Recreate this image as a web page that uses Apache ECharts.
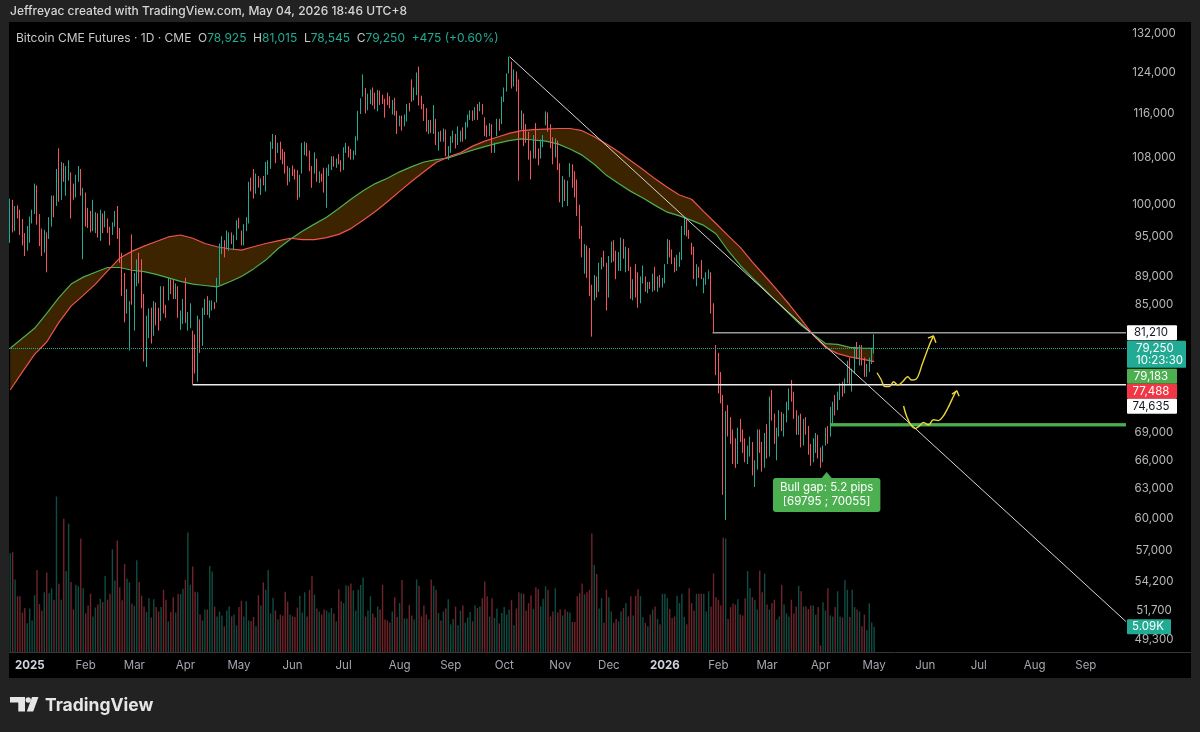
<!DOCTYPE html>
<html>
<head>
<meta charset="utf-8">
<script src="https://cdn.jsdelivr.net/npm/echarts@6/dist/echarts.min.js"></script>
<style>
html,body{margin:0;padding:0;background:#222222;overflow:hidden;}
#pane{position:absolute;left:9px;top:22px;width:1182px;height:656px;background:#000000;}
#chart{position:absolute;left:0;top:0;width:1200px;height:732px;}
</style>
</head>
<body>
<div id="pane"></div>
<div id="chart"></div>
<script>
// ---------------- DATA ----------------
// Daily candles, CME Bitcoin futures, first bar = 2024-12-20 (weekday bars). [open, high, low, close]
const ohlc = [
[98000,101000,94000,100400],[100400,100800,95600,96200],[96200,99800,95800,99300],[99300,99900,97800,98600],[98600,99200,95200,96000],
[96000,97700,93600,94800],[94800,95500,92000,93000],[93000,96600,92800,94200],[94300,98100,94000,97600],[97600,99200,97000,98900],
[99000,103500,98500,102800],[102800,103200,96800,97300],[97300,98500,93500,95400],[95400,96200,92000,93000],[93000,96000,92500,95200],
[95200,95600,89600,95000],[95000,98000,94600,97000],[97000,101500,96500,100800],[100800,101500,98000,100000],[100000,106000,99800,105300],
[105300,109600,100500,102500],[102500,107200,100800,106600],[106600,107000,103800,104400],[104400,106500,101500,104800],[104800,107500,104000,105500],
[105000,105400,97800,102500],[102500,103500,100800,101800],[101800,105000,101200,104400],[104400,106500,103800,105200],[105200,106000,101500,102400],
[100500,102800,91500,101000],[101000,102000,96500,98000],[98000,99500,96300,97000],[97000,99000,95600,96500],[96500,100800,95800,96800],
[96800,98800,95500,98000],[98000,98600,94800,95800],[95800,99200,94300,98400],[98400,98600,95500,96600],[96600,99000,96400,97800],
[97500,97800,95500,96000],[96000,96500,93600,95600],[95600,97200,95200,96800],[96800,99000,96500,98600],[98600,99800,94600,96000],
[95800,96300,91000,91600],[91600,92500,86200,88800],[88800,89500,82600,84600],[84600,87200,83800,85200],[80500,85500,78900,84900],
[94000,95300,85000,86800],[86800,89500,81500,88200],[88200,91500,87600,90800],[90800,92500,88000,89800],[89800,91500,84500,87000],
[86000,86500,77500,79000],[79000,83500,76800,82600],[82600,84500,80500,83800],[83800,84600,79800,81300],[81300,85500,80800,84600],
[84400,85300,82200,84300],[84300,84600,81500,83000],[83000,87600,82800,87000],[87000,87600,83800,84500],[84500,85000,83200,84200],
[86000,88800,85600,88200],[88200,88600,86500,87800],[87800,88500,85800,86800],[86800,88000,85800,87300],[87300,87600,83200,84000],
[83000,84200,81600,83200],[83200,85800,82400,85300],[85300,88800,82500,83000],[83000,84000,81500,83200],[83200,85200,81800,84000],
[80500,81500,74635,78600],[78600,81000,76000,76600],[76600,83500,75000,82600],[82600,83000,78600,79800],[79800,84600,79500,83800],
[84500,85800,83600,84800],[84800,86200,83600,84000],[84000,85600,83200,84900],[84900,85600,84200,85000],[85000,85400,84400,84800],
[85500,88800,85300,88200],[88200,93900,87800,93600],[93600,95000,92300,93800],[93800,94400,91800,93500],[93500,95900,93000,95000],
[94500,95600,92800,95200],[95200,95600,93800,94400],[94400,95200,92900,94600],[94600,97500,94400,97000],[97000,97900,96200,96800],
[95800,95900,93600,94800],[94800,96900,93600,96600],[96600,98000,95800,97200],[97200,103800,97000,103200],[103200,104500,102200,103000],
[104500,106000,101000,102500],[102500,105200,101800,104400],[104400,104800,102800,103600],[103600,104400,101600,103800],[103800,104800,103200,103600],
[104600,107200,102200,105800],[105800,107500,105000,106900],[106900,110800,106000,110000],[110000,112200,109500,111800],[111800,112000,107000,107800],
[109200,110600,108800,109800],[109800,110800,107600,109300],[109300,109500,106800,108000],[108000,109000,105200,105800],[105800,106500,103200,104200],
[104500,106200,103800,105900],[105900,106600,104800,105600],[105600,106000,104200,104800],[104800,105800,100800,101600],[101600,105000,101200,104600],
[105500,110600,105200,110300],[110300,110800,108400,110400],[110400,110600,108200,108800],[108800,109200,105600,106000],[106000,106500,102800,105800],
[105800,108900,105200,107300],[107300,107800,103800,104600],[104600,105600,103600,105000],[105000,105200,103800,104700],[104700,106200,102000,103400],
[101500,106200,99500,105600],[105600,106800,104800,106200],[106200,108200,105800,107500],[107500,108200,106400,107000],[107000,107800,106200,107400],
[107800,108600,106800,107300],[107300,107500,105500,106000],[106000,109800,105800,109200],[109200,110600,108800,109800],[109800,110000,108000,108400],
[108800,109500,107600,108200],[108200,109200,107600,109000],[109000,111800,108400,111500],[111500,116500,111000,116200],[116200,118900,115900,118000],
[119500,123600,119200,120600],[120600,120900,116000,117600],[117600,119800,116600,119200],[119200,120600,117800,119600],[119600,121000,117500,118200],
[118200,120000,116800,117600],[117600,120500,116400,120200],[120200,120400,117600,118600],[118600,119600,117800,118500],[118500,118800,115200,117800],
[119600,120000,117600,118200],[118200,119300,117000,118000],[118000,118600,115800,118100],[118100,119000,115600,116000],[116000,116500,112200,113600],
[114000,115600,113600,115200],[115200,115600,112800,114000],[114000,115800,113600,115400],[115400,117800,114500,117600],[117600,118000,116400,117000],
[119500,122600,118200,119000],[119000,121000,118500,120600],[120600,124000,119500,123400],[123400,125200,117500,118600],[118600,119400,116800,117600],
[117200,117800,114600,116400],[116400,117000,112600,113200],[113200,114800,112200,114400],[114400,114800,112400,113000],[113000,117600,112200,117000],
[114500,115000,110200,110600],[110600,112600,109200,112000],[112000,112800,110800,111600],[111600,113200,110800,112800],[112800,113000,108200,108800],
[108800,110000,107600,109400],[109400,111800,108800,111400],[111400,112800,110600,112000],[112000,112200,109600,110600],[110600,113600,110200,111000],
[111600,112800,110800,112400],[112400,113400,110800,111600],[111600,114400,111200,114000],[114000,115800,113400,115600],[115600,116600,114800,116200],
[116000,116600,114600,115600],[115600,117200,114800,117000],[117000,117800,114800,116800],[116800,118200,116400,117600],[117600,117800,115800,116000],
[115000,115300,111800,113000],[113000,113800,111600,112400],[112400,114200,111800,113800],[113800,114000,108800,109400],[109400,110600,108800,110200],
[112000,115000,111800,114600],[114600,115000,112800,114400],[114400,119200,114000,118800],[118800,121000,118200,120800],[120800,123800,120200,122600],
[124500,127200,123800,125600],[125600,126200,120800,121800],[121800,124600,121200,123800],[123800,124200,120200,121600],[121600,122600,104000,112800],
[114600,116600,113000,115800],[115800,116000,110000,113200],[113200,114000,110600,111200],[111200,112600,107600,108600],[108600,109200,104200,106800],
[108600,112000,107800,111000],[111000,114200,107800,109000],[109000,109600,106600,108200],[108200,111200,107800,110600],[110600,112000,109800,111400],
[114200,116400,113800,114600],[114600,116200,112600,113200],[113200,114000,109600,110600],[110600,111600,106800,108200],[108200,111400,108000,110200],
[110600,111000,105800,106600],[106600,107000,100400,101800],[101800,104800,99600,103800],[103800,104200,100600,101400],[101400,104000,99800,103600],
[105000,107000,104600,106200],[106200,106800,102800,103400],[103400,105600,101200,102000],[102000,104200,98200,99600],[99600,100000,94600,95400],
[95000,96600,91800,92400],[92400,93800,89400,93000],[93000,93600,88800,91400],[91400,93200,86200,86800],[86800,87800,80700,85200],
[86600,89200,85600,88400],[88400,89000,86000,87400],[87400,91000,86800,90600],[90600,91800,90000,91400],[91400,92800,90400,91000],
[90800,91000,84200,86400],[86400,92000,86000,91600],[91600,94200,91000,93600],[93600,94400,91200,92200],[92200,92800,88600,89600],
[90400,92600,89800,91000],[91000,94800,89800,93400],[93400,94600,91600,92400],[92400,93400,89600,92800],[92800,93200,89800,90600],
[89600,90400,85800,86600],[86600,88600,85600,87800],[87800,90800,86000,86400],[86400,89600,84600,85800],[85800,89000,85200,88400],
[88600,90600,88000,88800],[88800,89000,86800,87600],[87600,88200,86600,87800],[87800,88200,87200,87600],[87600,89400,86800,87700],
[88200,90400,87000,87400],[87400,89000,86800,88600],[88600,89200,87400,87800],[87800,88800,87400,88400],[88400,90800,88000,90400],
[91200,94600,90800,93800],[93800,94400,91800,92600],[92600,93000,90800,91400],[91400,91800,89600,90600],[90600,92200,89800,91000],
[91600,92600,90400,91800],[91800,96600,91400,95800],[95800,98000,95200,97200],[97200,97600,95000,95800],[95800,96000,94600,95400],
[93800,94000,92200,93000],[93000,93400,88600,89400],[89400,90800,87600,89800],[89800,90400,88800,89600],[89600,91400,88600,89400],
[88000,88800,86600,88200],[88200,89600,87800,89200],[89200,90000,88600,89400],[89400,89600,83800,84600],[84600,85200,81210,84000],
[79300,79600,75800,76600],[76600,78600,73600,75200],[75200,76200,72400,73000],[73000,73400,62400,63000],[63000,71500,59900,70600],
[70600,72200,68600,70200],[70200,70800,67800,68600],[68600,69400,65600,67000],[67000,68400,65200,66200],[66200,69600,65600,68800],
[68800,70600,68000,68600],[68600,69400,66800,67600],[67600,68400,65800,66400],[66400,67600,65600,67000],[67000,68600,66400,68000],
[67600,68000,64400,64800],[64800,66000,63200,65400],[65400,69400,65000,68800],[68800,69400,66800,67400],[67400,68000,64800,65800],
[65800,69000,65200,68600],[68600,70000,66200,66800],[66800,73200,66400,72600],[72600,74000,70400,70800],[70800,71200,67800,68200],
[67600,69600,66000,69200],[69200,71600,68600,70400],[70400,71400,69200,70000],[70000,71200,68600,70800],[70800,72600,70200,71600],
[72000,74200,71600,73800],[73800,75200,72600,73400],[73400,73800,70600,71200],[71200,71600,68800,69600],[69600,71000,68800,70600],
[70000,71200,67400,68000],[68000,70600,67600,70000],[70000,70800,68800,69400],[69400,69800,66600,67200],[67200,67800,65400,66000],
[66400,68400,65800,67800],[67800,69000,66800,68400],[68400,68800,66200,66800],[66800,67400,65200,66400],[66400,67600,65800,67200],
[68000,69600,67600,69200],[69200,69795,67800,68400],[68800,72000,68600,71600],[71600,72600,70055,72200],[72200,73400,71000,71800],
[72000,73800,71600,73400],[73400,74800,72800,74400],[74400,75000,73200,73800],[73800,75400,73600,75000],[75000,77600,74800,77200],
[77000,78000,74600,75400],[75400,76600,73800,76200],[76200,79400,76000,78800],[78800,80000,77800,78400],[78400,79600,77000,79200],
[79200,79600,77000,77400],[77400,78000,75600,76200],[76200,77200,75600,76800],[76800,78000,76200,77600],[77600,79200,77200,78775],
[78925,81015,78545,79250]
];

// Volume per bar, thousands of contracts
const volumeK = [
20.0,20.2,14.7,11.3,11.3,8.0,8.9,5.8,8.8,6.4,
11.5,16.6,9.7,8.4,12.1,16.1,11.9,12.9,10.6,31.5,
13.8,10.6,27.0,16.4,26.0,14.2,8.6,13.6,13.3,23.0,
12.9,7.8,9.4,11.8,7.2,9.0,9.6,10.8,10.1,15.4,
10.6,11.8,20.8,14.5,22.6,13.1,10.5,17.8,14.9,14.1,
9.8,9.4,18.6,14.2,11.4,9.2,8.1,10.9,7.0,10.7,
9.1,8.2,9.1,12.6,10.6,6.2,8.1,11.1,8.0,11.8,
11.7,12.8,14.6,24.2,13.6,17.3,12.2,12.1,7.6,6.4,
8.6,8.6,17.4,16.3,9.2,7.2,8.2,7.4,5.2,8.4,
9.2,7.2,7.6,5.4,9.1,10.4,7.2,10.3,6.4,6.3,
7.1,5.2,11.5,9.4,14.1,12.6,16.6,7.8,11.0,8.4,
6.6,7.6,7.4,12.2,10.2,7.6,7.2,7.1,9.0,11.4,
8.0,12.1,7.2,12.6,15.4,11.6,8.8,8.2,7.6,8.6,
8.4,8.0,8.9,7.8,6.2,12.7,10.3,9.9,13.5,13.4,
13.9,12.5,8.4,12.6,13.6,15.1,7.2,8.4,11.3,7.8,
7.0,9.2,8.6,13.6,6.6,6.4,6.0,8.2,11.1,7.1,
9.9,14.6,6.8,6.8,9.5,7.4,6.6,14.7,13.4,7.2,
9.4,7.6,6.6,14.7,13.4,12.6,7.9,
6.4,8.2,8.8,10.7,5.6,6.7,9.2,5.4,8.4,9.4,
5.9,7.0,8.1,6.2,9.4,8.9,9.2,10.9,14.3,11.3,
7.2,10.9,6.9,8.8,5.8,7.9,9.1,7.6,8.6,10.5,
5.4,8.8,12.1,11.9,11.8,8.4,9.9,11.5,8.7,13.1,
12.7,9.2,10.8,13.3,12.6,7.2,8.2,12.9,8.0,8.6,
7.4,8.6,8.2,8.0,6.1,6.1,11.3,11.9,13.9,11.7,
12.1,12.6,24.0,17.6,15.8,8.8,10.9,5.9,12.6,11.1,
8.2,5.9,6.7,6.2,8.2,8.9,9.9,7.2,11.3,7.4,
11.4,12.7,11.3,7.1,5.9,5.2,7.6,8.6,9.2,6.7,
5.6,11.8,11.8,10.9,8.7,6.9,7.2,11.4,9.9,11.8,
7.1,5.6,12.9,9.9,8.4,11.8,11.8,11.8,11.8,8.2,
12.3,9.2,15.9,11.1,10.6,9.4,23.2,23.0,6.7,9.1,
9.8,9.6,10.7,7.6,7.4,10.9,16.4,12.9,11.1,10.6,
8.6,16.5,12.1,15.9,9.6,8.6,9.9,10.6,6.6,7.2,
13.6,9.6,7.8,7.2,10.6,7.8,9.2,13.4,12.3,9.2,
9.2,8.7,9.4,9.4,7.6,9.1,1.3,10.1,8.4,12.9,
7.4,7.2,9.1,12.3,7.2,7.0,14.6,12.6,7.1,12.6,
9.1,8.6,8.2,5.2,7.6,4.4,9.9,6.0,5.09
];

// Moving averages, every 5th bar
const maBars = [0,5,10,15,20,25,30,35,40,45,50,55,60,65,70,75,80,85,90,95,100,105,110,115,120,125,130,135,140,145,150,155,160,165,170,175,180,185,190,195,200,205,210,215,220,225,230,235,240,245,250,255,260,265,270,275,280,285,290,295,300,305,310,315,320,325,330,335,340,345,350,355];
const maGreen = [79200,80500,81800,83800,86000,87900,88900,89600,90300,90300,89900,89700,89300,88800,88300,87900,87700,87500,88200,89000,90100,91400,93100,94500,95800,96900,98000,99400,100900,102300,103500,104400,105500,106400,107200,107600,107900,108600,109300,109900,110500,111000,111300,111100,110900,110400,109500,108400,106800,104900,103500,102200,101100,99900,98800,98200,97500,96700,95400,92800,90600,88800,87100,85400,83800,82200,81000,79800,79700,79300,79200,79183];
const maRed = [74000,76200,78400,80000,82600,84800,86300,87900,89800,91700,92700,93500,94200,94900,95200,94700,93900,93400,93100,92900,93400,93900,94300,94700,94500,94500,94800,95300,96200,97500,98900,100500,102200,103900,105500,107100,108100,108800,110000,110900,111600,112300,112800,113000,113100,113200,113200,112800,111700,110400,109000,107400,105900,104300,102900,101600,100900,98900,97000,95100,93300,91100,89100,87100,85100,83000,80900,79300,78500,78100,77800,77488];

// Price-axis tick labels
const yTicks = [132000,124000,116000,108000,100000,95000,89000,85000,69000,66000,63000,60000,57000,54200,51700,49300];

// Drawn levels / annotations (bar index, price)
const trendLine = [[205.2,127200],[458.5,50780]];
const gapLevel = {fromBar:288.6, price:81210};
const supportLevel = {fromBar:75, price:74635};
const bullGap = {fromBar:337, low:69795, high:70055, pips:5.2, labelBar:335.5, labelPrice:64760};
const scenarioPath1 = [[356.2,76100],[357.8,75300],[359.5,74400],[361.3,74400],[363,75000],[364.7,74600],[366.7,75000],[368.8,75600],[370.4,75200],[372.2,75300],[374.9,77300],[377.7,79600],[379.4,80800]];
const scenarioHead1 = [[377.1,80500],[379.4,80800],[380.4,79900]];
const scenarioPath2 = [[367.1,72100],[368.5,70800],[370.4,69800],[371.8,69500],[373.6,69800],[375.3,70200],[377.3,69900],[379.4,70500],[381.4,70400],[383.1,70800],[385.2,71800],[387.2,73000],[388.6,73800],[389,73900]];
const scenarioHead2 = [[387.0,73500],[389,73900],[389.9,73250]];

// x categories: weekday bars from 2024-12-20 through Sep 2026
const categories = [];
(function(){
  const d = new Date(Date.UTC(2024, 11, 20));
  while (categories.length < 459) {
    const wd = d.getUTCDay();
    if (wd !== 0 && wd !== 6) categories.push(d.toISOString().slice(0, 10));
    d.setUTCDate(d.getUTCDate() + 1);
  }
})();
const monthNames = ['Jan','Feb','Mar','Apr','May','Jun','Jul','Aug','Sep','Oct','Nov','Dec'];

// ---------------- CHART ----------------
const UP = '#22ab94', DOWN = '#f7525f';
const UPV = 'rgba(34,171,148,0.45)', DOWNV = 'rgba(247,82,95,0.45)';
const FONT = 'Inter, "Noto Sans", Roboto, sans-serif';
const fmt = v => Math.round(v).toLocaleString('en-US');
const last = ohlc[ohlc.length - 1];
const prevClose = ohlc[ohlc.length - 2][3];

function isMonthStart(i) {
  return i > 0 && categories[i].slice(5, 7) !== categories[i - 1].slice(5, 7);
}

const chart = echarts.init(document.getElementById('chart'), null, {renderer: 'canvas'});

const lineSeries = (data, color, width, z, smooth) => ({
  type: 'line', xAxisIndex: 1, yAxisIndex: 0, data: data, symbol: 'none', showSymbol: false,
  smooth: smooth || false, silent: true, z: z, animation: false,
  lineStyle: {color: color, width: width}
});

const chg = last[3] - prevClose;
const chgPct = (chg / prevClose * 100).toFixed(2);

const option = {
  animation: false,
  backgroundColor: 'transparent',
  textStyle: {fontFamily: FONT},
  grid: [
    {left: 9, right: 74, top: 22, bottom: 80},
    {left: 9, right: 74, top: 496, bottom: 80}
  ],
  xAxis: [
    {
      type: 'category', gridIndex: 0, data: categories, boundaryGap: true,
      axisLine: {show: false}, axisTick: {show: false}, splitLine: {show: false},
      axisLabel: {
        interval: (i) => isMonthStart(i),
        formatter: (v) => { const m = +v.slice(5, 7); return m === 1 ? '{y|' + v.slice(0, 4) + '}' : monthNames[m - 1]; },
        color: '#a3a6af', fontSize: 11.5, margin: 8, fontFamily: FONT,
        rich: {y: {fontWeight: 'bold', color: '#d1d4dc', fontSize: 11.5, fontFamily: FONT}}
      }
    },
    {type: 'value', gridIndex: 0, min: -0.5, max: categories.length - 0.5, show: false},
    {type: 'category', gridIndex: 1, data: categories, show: false}
  ],
  yAxis: [
    {
      type: 'log', logBase: 10, gridIndex: 0, min: 48330, max: 134600, position: 'right',
      axisLine: {show: false}, axisTick: {show: false}, splitLine: {show: false},
      axisLabel: {customValues: yTicks, formatter: (v) => fmt(v), color: '#b8b8b8', fontSize: 11.5, align: 'center', margin: 28, fontFamily: FONT}
    },
    {type: 'value', gridIndex: 1, min: 0, max: 31.6, show: false}
  ],
  series: [
    {
      type: 'bar', xAxisIndex: 2, yAxisIndex: 1, barWidth: 1.4, silent: true, z: 1,
      data: volumeK.map((v, i) => ({value: v, itemStyle: {color: ohlc[i][3] >= ohlc[i][0] ? UPV : DOWNV}}))
    },
    {
      type: 'custom', xAxisIndex: 1, yAxisIndex: 0, z: 2, silent: true, clip: true,
      data: maBars.map((b, i) => [b, maGreen[i], maRed[i]]),
      encode: {x: 0, y: [1, 2]},
      renderItem: (p, api) => {
        if (p.dataIndex !== 0) return null;
        const pts = [];
        for (let i = 0; i < maBars.length; i++) pts.push(api.coord([maBars[i], maGreen[i]]));
        for (let i = maBars.length - 1; i >= 0; i--) pts.push(api.coord([maBars[i], maRed[i]]));
        return {type: 'polygon', shape: {points: pts}, style: {fill: 'rgba(255,152,0,0.24)'}};
      }
    },
    lineSeries(maBars.map((b, i) => [b, maGreen[i]]), '#4caf50', 1.2, 3),
    lineSeries(maBars.map((b, i) => [b, maRed[i]]), '#ef5350', 1.2, 3),
    {
      type: 'candlestick', xAxisIndex: 0, yAxisIndex: 0, z: 4, silent: true, barWidth: 1,
      data: ohlc.map(r => [r[0], r[3], r[2], r[1]]),
      itemStyle: {color: UP, color0: DOWN, borderColor: UP, borderColor0: DOWN, borderWidth: 1},
      markLine: {
        silent: true, symbol: ['none', 'none'], label: {show: false},
        lineStyle: {color: UP, type: 'dotted', width: 1, opacity: 1},
        data: [{yAxis: last[3]}]
      }
    },
    lineSeries(trendLine, '#d6d6d6', 1, 5),
    lineSeries([[gapLevel.fromBar, gapLevel.price], [categories.length - 0.5, gapLevel.price]], '#9a9a9a', 1.5, 5),
    lineSeries([[supportLevel.fromBar, supportLevel.price], [categories.length - 0.5, supportLevel.price]], '#ececec', 1.5, 5),
    {
      type: 'custom', xAxisIndex: 1, yAxisIndex: 0, z: 5, silent: true, clip: true,
      data: [[bullGap.fromBar, bullGap.low, categories.length - 0.5, bullGap.high]],
      encode: {x: [0, 2], y: [1, 3]},
      renderItem: (p, api) => {
        const a = api.coord([api.value(0), api.value(3)]);
        const b = api.coord([api.value(2), api.value(1)]);
        return {type: 'rect', shape: {x: a[0], y: a[1], width: b[0] - a[0], height: b[1] - a[1]},
                style: {fill: '#4caf50', stroke: '#4caf50', lineWidth: 1}};
      }
    },
    {
      type: 'scatter', xAxisIndex: 1, yAxisIndex: 0, z: 6, silent: true,
      data: [[bullGap.labelBar, bullGap.labelPrice]],
      symbol: 'triangle', symbolSize: [10, 6], symbolOffset: [0, 3],
      itemStyle: {color: '#4caf50', opacity: 1},
      label: {
        show: true, position: 'bottom', distance: 0,
        formatter: 'Bull gap: ' + bullGap.pips + ' pips\n[' + bullGap.low + ' ; ' + bullGap.high + ']',
        backgroundColor: '#4caf50', color: '#ffffff', fontSize: 11.5, lineHeight: 14,
        padding: [3, 7, 3, 7], borderRadius: 3, align: 'center', fontFamily: FONT
      }
    },
    lineSeries(scenarioPath1, '#ecd63a', 1.4, 6, 0.4),
    lineSeries(scenarioHead1, '#ecd63a', 1.4, 6),
    lineSeries(scenarioPath2, '#ecd63a', 1.4, 6, 0.4),
    lineSeries(scenarioHead2, '#ecd63a', 1.4, 6)
  ],
  graphic: [
    {type: 'line', shape: {x1: 9, y1: 652.5, x2: 1191, y2: 652.5}, style: {stroke: '#363636', lineWidth: 1}, silent: true},
    {type: 'text', x: 10, y: 11, silent: true,
     style: {text: 'Jeffreyac created with TradingView.com, May 04, 2026 18:46 UTC+8', fill: '#d6d6d6',
             font: '500 12px ' + FONT, verticalAlign: 'middle'}},
    {type: 'text', x: 16, y: 38.5, silent: true,
     style: {
       text: '{n|Bitcoin CME Futures · 1D · CME}  {l|O}{v|' + fmt(last[0]) + '}  {l|H}{v|' + fmt(last[1]) + '}  {l|L}{v|' + fmt(last[2]) + '}  {l|C}{v|' + fmt(last[3]) + '}  {v|' + (chg >= 0 ? '+' : '') + fmt(chg) + ' (' + (chg >= 0 ? '+' : '') + chgPct + '%)}',
       verticalAlign: 'middle',
       rich: {
         n: {fill: '#c8c8c8', font: '12px ' + FONT},
         l: {fill: '#c8c8c8', font: '12px ' + FONT},
         v: {fill: UP, font: '12px ' + FONT}
       }
     }},
    {type: 'group', x: 10, y: 697, silent: true, children: [
      {type: 'polygon', shape: {points: [[0, 0], [15, 0], [15, 14.5], [8.3, 14.5], [8.3, 5.5], [0, 5.5]]}, style: {fill: '#e6e6e6'}},
      {type: 'circle', shape: {cx: 18.2, cy: 3, r: 2.7}, style: {fill: '#e6e6e6'}},
      {type: 'polygon', shape: {points: [[22, 0], [28.5, 0], [23.2, 14.5], [16.8, 14.5]]}, style: {fill: '#e6e6e6'}}
    ]},
    {type: 'text', x: 45, y: 705.5, silent: true,
     style: {text: 'TradingView', fill: '#e6e6e6', font: 'bold 17.5px ' + FONT, verticalAlign: 'middle'}}
  ]
};

chart.setOption(option);

// Price-scale tags (positions from the axis scales)
(function () {
  const py = v => chart.convertToPixel({yAxisIndex: 0}, v);
  const vy = v => chart.convertToPixel({yAxisIndex: 1}, v);
  const X = 1127;
  const tealTop = py(last[3]) - 7;
  const tags = [
    {top: py(gapLevel.price) - 7.5, h: 15, w: 50, bg: '#ffffff', fg: '#131722', lines: [fmt(gapLevel.price)]},
    {top: tealTop, h: 27, w: 59, bg: UP, fg: '#ffffff', lines: [fmt(last[3]), '10:23:30'], left: true},
    {top: tealTop + 28, h: 15, w: 50, bg: '#4caf50', fg: '#ffffff', lines: [fmt(maGreen[maGreen.length - 1])]},
    {top: tealTop + 43, h: 15, w: 50, bg: '#f23645', fg: '#ffffff', lines: [fmt(maRed[maRed.length - 1])]},
    {top: tealTop + 58, h: 15, w: 50, bg: '#ffffff', fg: '#131722', lines: [fmt(supportLevel.price)]},
    {top: vy(volumeK[volumeK.length - 1]) - 7.5, h: 15, w: 44, bg: UP, fg: '#ffffff', lines: [volumeK[volumeK.length - 1].toFixed(2) + 'K']}
  ];
  const g = [];
  tags.forEach(t => {
    const children = [{type: 'rect', shape: {x: 0, y: 0, width: t.w, height: t.h, r: 1}, style: {fill: t.bg}}];
    t.lines.forEach((s, k) => {
      children.push({type: 'text', x: t.left ? 9 : t.w / 2 - 1, y: 7.5 + k * 12.5,
        style: {text: s, fill: t.fg, font: '11.5px ' + FONT, align: t.left ? 'left' : 'center', verticalAlign: 'middle'}});
    });
    g.push({type: 'group', x: X, y: t.top, z: 20, silent: true, children: children});
  });
  chart.setOption({graphic: option.graphic.concat(g)});
})();
</script>
</body>
</html>
